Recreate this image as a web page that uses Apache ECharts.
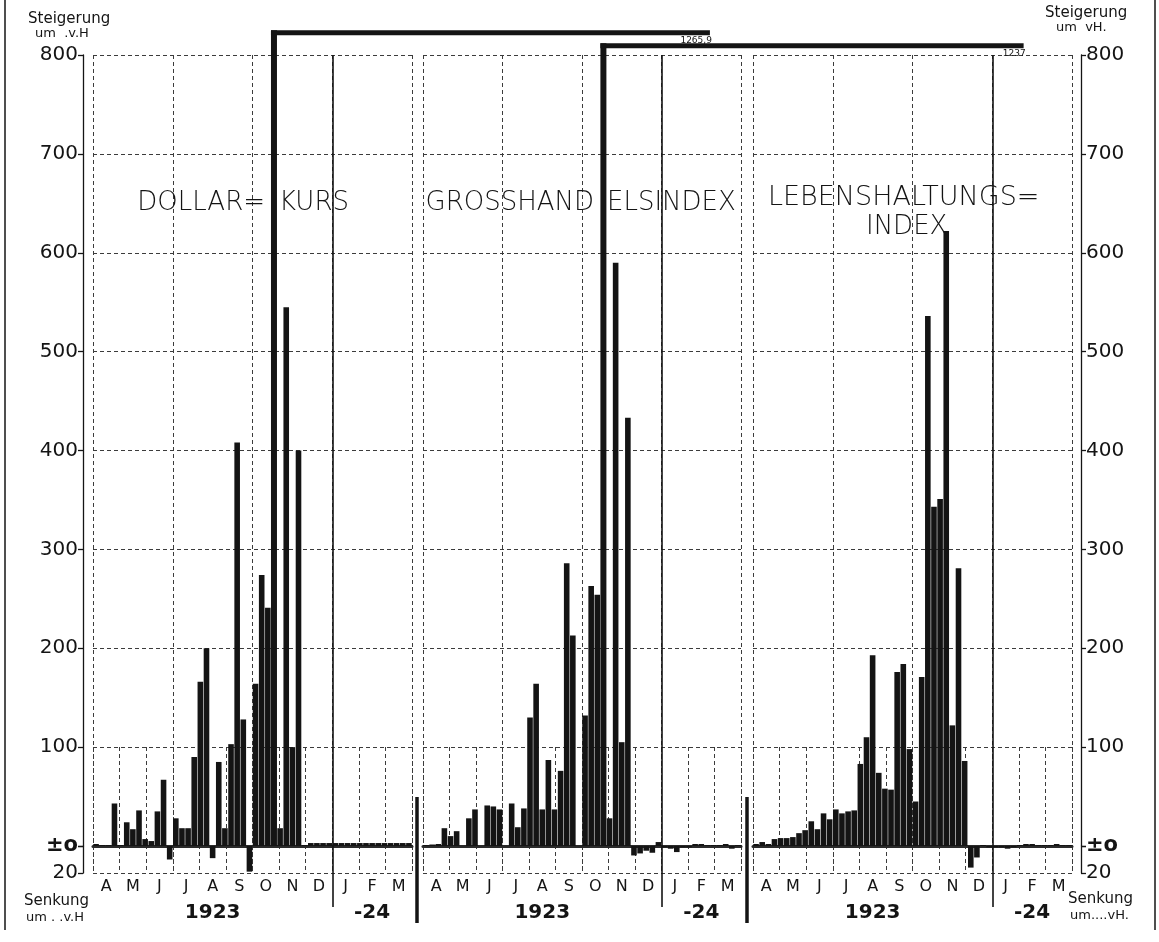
<!DOCTYPE html>
<html>
<head>
<meta charset="utf-8">
<script src="https://cdn.jsdelivr.net/npm/echarts@6/dist/echarts.min.js"></script>
<style>html,body{margin:0;padding:0;background:#fff}#c{width:1159px;height:942px}</style>
</head>
<body>
<div id="c"></div>
<script>
// ---------------- DATA ----------------
// weekly change in percent, April 1923 .. March 1924 (52 weeks per panel)
const WEEKS = Array.from({length: 52}, (_, i) => 'W' + (i + 1));
const MONTHS = ['A', 'M', 'J', 'J', 'A', 'S', 'O', 'N', 'D', 'J', 'F', 'M'];
const YEAR_LABELS = ['', '', '', '', '1923', '', '', '', '', '', '-24', ''];
const YEAR_START_WEEK = 39;
const QUARTER_WEEKS = 13;

const DOLLAR = [2, 1, 1, 43, 1, 24, 17, 36, 7, 5,
  35, 67, -10, 28, 18, 18, 90, 166, 200, -9,
  85, 18, 103, 408, 128, -19, 164, 274, 241, 1265.9,
  18, 545, 100, 400, 1, 3, 3, 3, 3, 3,
  3, 3, 3, 3, 3, 3, 3, 3, 3, 3, 3, 3];
const GROSSHANDEL = [1, 1.5, 2, 18, 10, 15, null, 28, 37, null,
  41, 40, 37, null, 43, 19, 38, 130, 164, 37,
  87, 37, 76, 286, 213, null, 132, 263, 254, 1237,
  28, 590, 105, 433, -7, -5.5, -3.5, -5, 4, -1,
  -2, -4.5, -1, -1, 2, 2, 1, 1, 1, 2, -2, 1];
const LEBENSHALTUNG = [2, 4, 2, 7, 8, 8, 9, 13, 16, 25,
  17, 33, 27, 37, 33, 35, 36, 83, 110, 193,
  74, 58, 57, 176, 184, 98, 45, 171, 536, 343,
  351, 622, 122, 281, 86, -16, -8.5, 1, -1, -1,
  -1, -2, -1, 1, 2, 2, 1, 1, 1, 2, 1, 1];
const Y_MAX = 800;
const Y_MIN = -20;

// ---------------- STYLE / LAYOUT ----------------
const FONT = 'DejaVu Sans';
const INK = '#141414';
const GRID_INK = '#3c3c3c';
const DASH = [4, 3];
const PANEL_BOX = [{left: 93, right: 747}, {left: 423, right: 418}, {left: 753, right: 87}];
const FOLD_LEVEL = [825, 812, 812];
const PANEL_DATA = [DOLLAR, GROSSHANDEL, LEBENSHALTUNG];

const grids = [], xAxes = [], yAxes = [], series = [];

function foldRenderer(foldAt) {
  return function (params, api) {
    const i = api.value(0), v = api.value(1);
    const base = api.coord([i, 0]);
    const top = api.coord([i, foldAt]);
    const unit = api.size([0, 1])[1];
    const len = (v - foldAt) * unit;
    const bw = 6, th = 5;
    const x0 = base[0] - bw / 2;
    return {
      type: 'group',
      children: [
        {type: 'rect', shape: {x: x0, y: top[1], width: bw, height: base[1] - top[1]}, style: {fill: INK}},
        {type: 'rect', shape: {x: x0, y: top[1], width: bw / 2 + len, height: th}, style: {fill: INK}},
        {type: 'text', x: base[0] + len + 2, y: top[1] + th + 1,
          style: {text: String(v).replace('.', ','), fontSize: 9, fontFamily: FONT, fill: INK, align: 'right', verticalAlign: 'top'}}
      ]
    };
  };
}

PANEL_DATA.forEach((data, p) => {
  const box = PANEL_BOX[p];
  const side = p === 2 ? 'right' : 'left';
  const showAxis = p !== 1;
  const offset = p === 0 ? 10 : (p === 2 ? 9 : 0);

  // upper grid 0..800
  const gU = grids.length;
  grids.push({left: box.left, right: box.right, top: 55, bottom: 96});
  const xU = xAxes.length;
  xAxes.push({gridIndex: gU, type: 'category', data: WEEKS, boundaryGap: true,
    axisLine: {show: true, lineStyle: {color: '#2a2a2a', width: 3}},
    axisTick: {show: false}, axisLabel: {show: false}, splitLine: {show: false}});
  const yU = yAxes.length;
  yAxes.push({gridIndex: gU, type: 'value', min: 0, max: Y_MAX, interval: 100, position: side, offset: offset,
    axisLine: {show: showAxis, lineStyle: {color: INK, width: 1.3}},
    axisTick: {show: showAxis, length: 5, lineStyle: {color: INK, width: 1.3}},
    axisLabel: {show: showAxis, margin: 5, color: INK, fontFamily: FONT, fontSize: 20,
      formatter: v => v === 0 ? '{z|±o}' : String(v),
      rich: {z: {fontWeight: 'bold', fontSize: 21, fontFamily: FONT, color: INK}}},
    splitLine: {show: true, lineStyle: {type: DASH, color: GRID_INK, width: 1}}});

  // lower grid -20..0
  const gL = grids.length;
  grids.push({left: box.left, right: box.right, top: 846, bottom: 69});
  const xL = xAxes.length;
  xAxes.push({gridIndex: gL, type: 'category', data: WEEKS, boundaryGap: true,
    axisLine: {show: false}, axisTick: {show: false}, axisLabel: {show: false}, splitLine: {show: false}});
  const yL = yAxes.length;
  yAxes.push({gridIndex: gL, type: 'value', min: Y_MIN, max: 0, interval: 20, position: side, offset: offset,
    axisLine: {show: showAxis, lineStyle: {color: INK, width: 1.3}},
    axisTick: {show: showAxis, length: 5, lineStyle: {color: INK, width: 1.3}},
    axisLabel: {show: showAxis, margin: 5, color: INK, fontFamily: FONT, fontSize: 20,
      formatter: v => v === Y_MIN ? String(-Y_MIN) : ''},
    splitLine: {show: true, lineStyle: {type: DASH, color: [GRID_INK, 'transparent'], width: 1}}});

  // month grid (lower region) with month and year labels
  const gM = grids.length;
  grids.push({left: box.left, right: box.right, top: 747, bottom: 69});
  xAxes.push({gridIndex: gM, type: 'category', data: MONTHS, boundaryGap: true, position: 'bottom',
    axisLine: {show: false}, axisTick: {show: false},
    axisLabel: {show: true, interval: 0, margin: 6, color: INK, fontFamily: FONT, fontSize: 16},
    splitLine: {show: true, interval: 0, lineStyle: {type: DASH, color: GRID_INK, width: 1}}});
  xAxes.push({gridIndex: gM, type: 'category', data: MONTHS, boundaryGap: true, position: 'bottom', offset: 24,
    axisLine: {show: false}, axisTick: {show: false}, splitLine: {show: false},
    axisLabel: {show: true, interval: 0, margin: 6, color: INK, fontFamily: FONT, fontSize: 20, fontWeight: 'bold',
      formatter: (v, i) => YEAR_LABELS[i]}});
  yAxes.push({gridIndex: gM, type: 'value', min: 0, max: 1, show: false});

  // quarter grid (full height dashed verticals)
  const gQ = grids.length;
  grids.push({left: box.left, right: box.right, top: 55, bottom: 69});
  xAxes.push({gridIndex: gQ, type: 'value', min: 0, max: WEEKS.length, interval: QUARTER_WEEKS,
    axisLine: {show: false}, axisTick: {show: false}, axisLabel: {show: false},
    splitLine: {show: true, lineStyle: {type: DASH, color: GRID_INK, width: 1}}});
  yAxes.push({gridIndex: gQ, type: 'value', min: 0, max: 1, show: false});

  // year divider grid
  const gY = grids.length;
  grids.push({left: box.left, right: box.right, top: 55, bottom: 35});
  const xY = xAxes.length;
  xAxes.push({gridIndex: gY, type: 'value', min: 0, max: WEEKS.length, show: false});
  const yY = yAxes.length;
  yAxes.push({gridIndex: gY, type: 'value', min: 0, max: 1, show: false});

  series.push({type: 'line', xAxisIndex: xY, yAxisIndex: yY, data: [], silent: true,
    markLine: {silent: true, symbol: ['none', 'none'], label: {show: false},
      lineStyle: {type: 'solid', color: INK, width: 1.6}, data: [{xAxis: YEAR_START_WEEK}]}});

  series.push({type: 'bar', xAxisIndex: xU, yAxisIndex: yU, barWidth: 5.6, silent: true, z: 3,
    itemStyle: {color: INK},
    data: data.map(v => (v != null && v > 0 && v <= Y_MAX) ? v : null)});
  series.push({type: 'bar', xAxisIndex: xL, yAxisIndex: yL, barWidth: 5.6, silent: true, z: 3,
    itemStyle: {color: INK},
    data: data.map(v => (v != null && v < 0) ? v : null)});
  const over = data.map((v, i) => [i, v]).filter(d => d[1] != null && d[1] > Y_MAX);
  if (over.length) {
    series.push({type: 'custom', xAxisIndex: xU, yAxisIndex: yU, clip: false, silent: true, z: 5,
      encode: {x: 0, y: 1}, data: over, renderItem: foldRenderer(FOLD_LEVEL[p])});
  }
});

function txt(text, x, y, size, opts) {
  opts = opts || {};
  return {type: 'text', x: x, y: y, silent: true, z: 10,
    style: {text: text, fontFamily: FONT, fontSize: size, fontWeight: opts.weight || 'normal',
      fill: INK, align: opts.align || 'left', verticalAlign: 'middle'}};
}
function vline(x, y1, y2, w) {
  return {type: 'line', silent: true, z: 10, shape: {x1: x, y1: y1, x2: x, y2: y2},
    style: {stroke: INK, lineWidth: w}};
}

const graphic = [
  txt('Steigerung', 28, 19, 15), txt('um  .v.H', 35, 34, 13),
  txt('Steigerung', 1045, 13, 15), txt('um  vH.', 1056, 28, 13),
  txt('Senkung', 24, 901, 15), txt('um . .v.H', 26, 918, 13),
  txt('Senkung', 1068, 899, 15), txt('um....vH.', 1070, 916, 13),
  txt('DOLLAR=', 265, 203, 26, {align: 'right', weight: 300}),
  txt('KURS', 279, 203, 26, {weight: 300}),
  txt('GROSSHAND', 594, 203, 26, {align: 'right', weight: 300}),
  txt('ELSINDEX', 607, 203, 26, {weight: 300}),
  txt('LEBENSHALTUNGS=', 768, 198, 27, {weight: 300}),
  txt('INDEX', 866, 227, 26, {weight: 300}),
  vline(417, 797, 923, 3.5), vline(747, 797, 923, 3.5),
  vline(5, 0, 930, 1.5), vline(1155, 0, 930, 1.5)
];

const chart = echarts.init(document.getElementById('c'), null, {renderer: 'canvas'});
chart.setOption({
  animation: false,
  backgroundColor: '#ffffff',
  grid: grids, xAxis: xAxes, yAxis: yAxes, series: series, graphic: graphic
});
</script>
</body>
</html>
